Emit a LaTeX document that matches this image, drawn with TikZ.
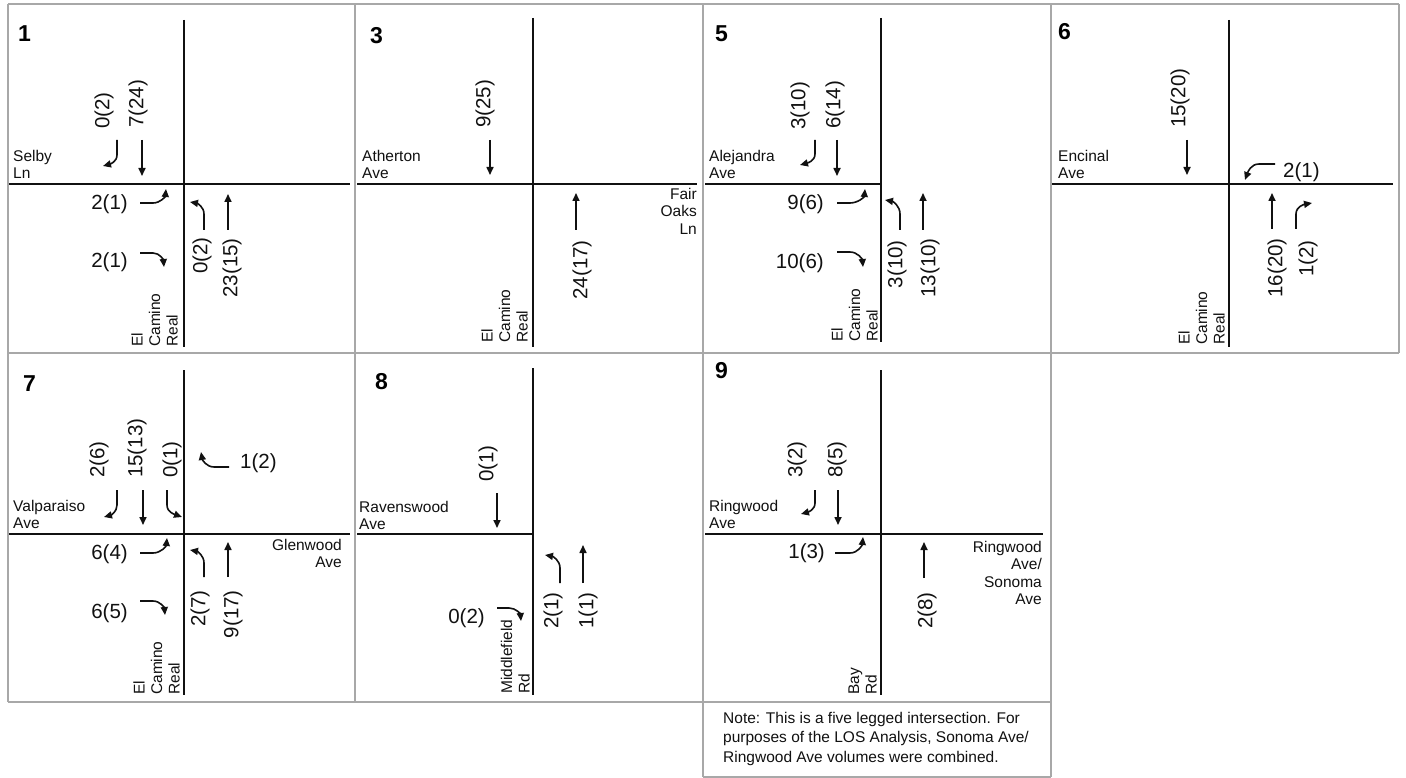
\documentclass[tikz,border=0pt]{standalone}
\usepackage{fontspec}
\setmainfont{Liberation Sans}
\usepackage{xcolor}
\definecolor{cRoad}{HTML}{111111}
\definecolor{cGrid}{HTML}{A8A8A8}
\usepackage{tikz}
\usetikzlibrary{arrows.meta}
\tikzset{
  line-grid/.style={draw=cGrid,line width=1.5pt},
  line-road/.style={draw=cRoad,line width=1.9pt},
  arrow-move/.style={-{Triangle[length=8pt,width=7pt]},line width=1.6pt,draw=cRoad},
  node-vol/.style={inner sep=0pt,text=cRoad,font=\fontsize{20.5}{22}\selectfont},
  node-vol-up/.style={node-vol,rotate=90},
  node-street/.style={inner sep=0pt,text=cRoad,font=\fontsize{15.5}{17.5}\selectfont},
  node-street-up/.style={node-street,rotate=90,anchor=south west,align=left},
  node-num/.style={inner sep=0pt,anchor=north west,font=\fontsize{23}{23}\selectfont\bfseries},
}

\begin{document}
\begin{tikzpicture}[x=1pt,y=1pt]
  \path[use as bounding box,fill=white] (0,0) rectangle (1406,-778);
  % panel grid
  \draw[line-grid] (8,-4) -- (1399,-4) (8,-353) -- (1399,-353)
    (8,-702) -- (1051,-702) (703,-777) -- (1051,-777)
    (8,-4) -- (8,-702) (355,-4) -- (355,-702) (703,-4) -- (703,-777)
    (1051,-4) -- (1051,-777) (1399,-4) -- (1399,-353);

  % 1
  \begin{scope}[shift={(184,-184)}]
    \draw[line-road] (0,164) -- (0,-163);
    \draw[line-road] (-175,0) -- (166,0);
    \node[node-num] (p1-id) at (-166,159) {1};
    \node[node-street,anchor=south west,align=left] (p1-w) at (-171,5) {Selby\\Ln};
    \node[node-street-up] (p1-s) at (-6,-163) {El\\Camino\\Real};
    \node[node-vol-up,anchor=west] (p1-sbr) at (-80,55) {0(2)};
    \node[node-vol-up,anchor=west] (p1-sbt) at (-46,56) {7(24)};
    \node[node-vol,anchor=east] (p1-ebl) at (-56,-20) {2(1)};
    \node[node-vol,anchor=east] (p1-ebr) at (-56,-78) {2(1)};
    \node[node-vol-up,anchor=east] (p1-nbl) at (18,-53) {0(2)};
    \node[node-vol-up,anchor=east] (p1-nbt) at (48,-54) {23(15)};
    \draw[arrow-move] (-67,44) -- (-67,29) to[out=-90,in=15] (-81,18);
    \draw[arrow-move] (-42,44) -- (-42,8);
    \draw[arrow-move] (-44,-19) -- (-31,-19) to[out=0,in=-95] (-18,-5);
    \draw[arrow-move] (-44,-69) -- (-31,-69) to[out=0,in=95] (-20,-83);
    \draw[arrow-move] (20,-46) -- (20,-30) to[out=90,in=-10] (6,-18);
    \draw[arrow-move] (44,-46) -- (44,-10);
  \end{scope}

  % 3
  \begin{scope}[shift={(533,-184)}]
    \draw[line-road] (0,166) -- (0,-163);
    \draw[line-road] (-176,0) -- (164,0);
    \node[node-num] (p3-id) at (-163,157) {3};
    \node[node-street,anchor=south west,align=left] (p3-w) at (-171,5) {Atherton\\Ave};
    \node[node-street,anchor=north east,align=right] (p3-e) at (164,-4) {Fair\\Oaks\\Ln};
    \node[node-street-up] (p3-s) at (-5,-159) {El\\Camino\\Real};
    \node[node-vol-up,anchor=west] (p3-sbt) at (-48,56) {9(25)};
    \node[node-vol-up,anchor=east] (p3-nbt) at (49,-56) {24(17)};
    \draw[arrow-move] (-43,44) -- (-43,9);
    \draw[arrow-move] (43,-46) -- (43,-9);
  \end{scope}

  % 5
  \begin{scope}[shift={(881,-184)}]
    \draw[line-road] (0,166) -- (0,-158);
    \draw[line-road] (-176,0) -- (0,0);
    \node[node-num] (p5-id) at (-166,159) {5};
    \node[node-street,anchor=south west,align=left] (p5-w) at (-172,5) {Alejandra\\Ave};
    \node[node-street-up] (p5-s) at (-3,-158) {El\\Camino\\Real};
    \node[node-vol-up,anchor=west] (p5-sbr) at (-81,54) {3(10)};
    \node[node-vol-up,anchor=west] (p5-sbt) at (-46,55) {6(14)};
    \node[node-vol,anchor=east] (p5-ebl) at (-57,-20) {9(6)};
    \node[node-vol,anchor=east] (p5-ebr) at (-57,-79) {10(6)};
    \node[node-vol-up,anchor=east] (p5-nbl) at (16,-56) {3(10)};
    \node[node-vol-up,anchor=east] (p5-nbt) at (49,-54) {13(10)};
    \draw[arrow-move] (-66,44) -- (-66,30) to[out=-90,in=15] (-81,19);
    \draw[arrow-move] (-44,44) -- (-44,8);
    \draw[arrow-move] (-44,-19) -- (-31,-19) to[out=0,in=-95] (-16,-5);
    \draw[arrow-move] (-44,-68) -- (-31,-68) to[out=0,in=95] (-18,-83);
    \draw[arrow-move] (19,-46) -- (19,-30) to[out=90,in=-10] (4,-16);
    \draw[arrow-move] (42,-46) -- (42,-9);
  \end{scope}

  % 6
  \begin{scope}[shift={(1229,-184)}]
    \draw[line-road] (0,164) -- (0,-163);
    \draw[line-road] (-177,0) -- (164,0);
    \node[node-num] (p6-id) at (-171,161) {6};
    \node[node-street,anchor=south west,align=left] (p6-w) at (-171,5) {Encinal\\Ave};
    \node[node-street-up] (p6-s) at (-4,-161) {El\\Camino\\Real};
    \node[node-vol-up,anchor=west] (p6-sbt) at (-49,56) {15(20)};
    \node[node-vol,anchor=west] (p6-wbl) at (54,12) {2(1)};
    \node[node-vol-up,anchor=east] (p6-nbt) at (48,-54) {16(20)};
    \node[node-vol-up,anchor=east] (p6-nbr) at (79,-56) {1(2)};
    \draw[arrow-move] (-42,44) -- (-42,9);
    \draw[arrow-move] (46,20) -- (30,20) to[out=180,in=70] (16,4);
    \draw[arrow-move] (43,-45) -- (43,-9);
    \draw[arrow-move] (67,-45) -- (67,-30) to[out=90,in=-170] (83,-19);
  \end{scope}

  % 7
  \begin{scope}[shift={(184,-534)}]
    \draw[line-road] (0,164) -- (0,-161);
    \draw[line-road] (-175,0) -- (166,0);
    \node[node-num] (p7-id) at (-161,159) {7};
    \node[node-street,anchor=south west,align=left] (p7-w) at (-171,5) {Valparaiso\\Ave};
    \node[node-street,anchor=north east,align=right] (p7-e) at (158,-5) {Glenwood\\Ave};
    \node[node-street-up] (p7-s) at (-4,-161) {El\\Camino\\Real};
    \node[node-vol-up,anchor=west] (p7-sbr) at (-85,56) {2(6)};
    \node[node-vol-up,anchor=west] (p7-sbt) at (-47,56) {15(13)};
    \node[node-vol-up,anchor=west] (p7-sbl) at (-12,56) {0(1)};
    \node[node-vol,anchor=west] (p7-wbr) at (56,71) {1(2)};
    \node[node-vol,anchor=east] (p7-ebl) at (-56,-20) {6(4)};
    \node[node-vol,anchor=east] (p7-ebr) at (-56,-79) {6(5)};
    \node[node-vol-up,anchor=east] (p7-nbl) at (16,-56) {2(7)};
    \node[node-vol-up,anchor=east] (p7-nbt) at (49,-56) {9(17)};
    \draw[arrow-move] (-67,44) -- (-67,29) to[out=-90,in=15] (-80,17);
    \draw[arrow-move] (-41,44) -- (-41,9);
    \draw[arrow-move] (-17,44) -- (-17,29) to[out=-90,in=160] (-2,17);
    \draw[arrow-move] (45,67) -- (30,67) to[out=180,in=-80] (17,82);
    \draw[arrow-move] (-44,-19) -- (-31,-19) to[out=0,in=-95] (-17,-4);
    \draw[arrow-move] (-44,-67) -- (-31,-67) to[out=0,in=95] (-19,-81);
    \draw[arrow-move] (20,-43) -- (20,-29) to[out=90,in=-10] (6,-16);
    \draw[arrow-move] (44,-43) -- (44,-8);
  \end{scope}

  % 8
  \begin{scope}[shift={(533,-534)}]
    \draw[line-road] (0,166) -- (0,-161);
    \draw[line-road] (-176,0) -- (0,0);
    \node[node-num] (p8-id) at (-158,161) {8};
    \node[node-street,anchor=south west,align=left] (p8-w) at (-174,4) {Ravenswood\\Ave};
    \node[node-street-up] (p8-s) at (-3,-160) {Middlefield\\Rd};
    \node[node-vol-up,anchor=west] (p8-sbt) at (-45,52) {0(1)};
    \node[node-vol,anchor=east] (p8-ebr) at (-48,-84) {0(2)};
    \node[node-vol-up,anchor=east] (p8-nbl) at (20,-58) {2(1)};
    \node[node-vol-up,anchor=east] (p8-nbt) at (55,-58) {1(1)};
    \draw[arrow-move] (-36,41) -- (-36,6);
    \draw[arrow-move] (-36,-74) -- (-24,-74) to[out=0,in=95] (-12,-87);
    \draw[arrow-move] (27,-49) -- (27,-34) to[out=90,in=-10] (12,-21);
    \draw[arrow-move] (50,-49) -- (50,-11);
  \end{scope}

  % 9
  \begin{scope}[shift={(881,-534)}]
    \draw[line-road] (0,164) -- (0,-161);
    \draw[line-road] (-176,0) -- (162,0);
    \node[node-num] (p9-id) at (-166,172) {9};
    \node[node-street,anchor=south west,align=left] (p9-w) at (-172,5) {Ringwood\\Ave};
    \node[node-street,anchor=north east,align=right] (p9-e) at (161,-7) {Ringwood\\Ave/\\Sonoma\\Ave};
    \node[node-street-up] (p9-s) at (-4,-161) {Bay\\Rd};
    \node[node-vol-up,anchor=west] (p9-sbr) at (-84,56) {3(2)};
    \node[node-vol-up,anchor=west] (p9-sbt) at (-44,56) {8(5)};
    \node[node-vol,anchor=east] (p9-ebl) at (-56,-19) {1(3)};
    \node[node-vol-up,anchor=east] (p9-nbt) at (46,-58) {2(8)};
    \draw[arrow-move] (-66,44) -- (-66,31) to[out=-90,in=15] (-80,20);
    \draw[arrow-move] (-43,44) -- (-43,9);
    \draw[arrow-move] (-46,-19) -- (-31,-19) to[out=0,in=-95] (-18,-3);
    \draw[arrow-move] (43,-44) -- (43,-8);
    \node[node-street,anchor=north west,align=left,
      font=\fontsize{15.5}{19.5}\selectfont] (p9-note) at (-158,-178)
      {Note: This is a five legged intersection. For\\
       purposes of the LOS Analysis, Sonoma Ave/\\
       Ringwood Ave volumes were combined.};
  \end{scope}
\end{tikzpicture}
\end{document}
